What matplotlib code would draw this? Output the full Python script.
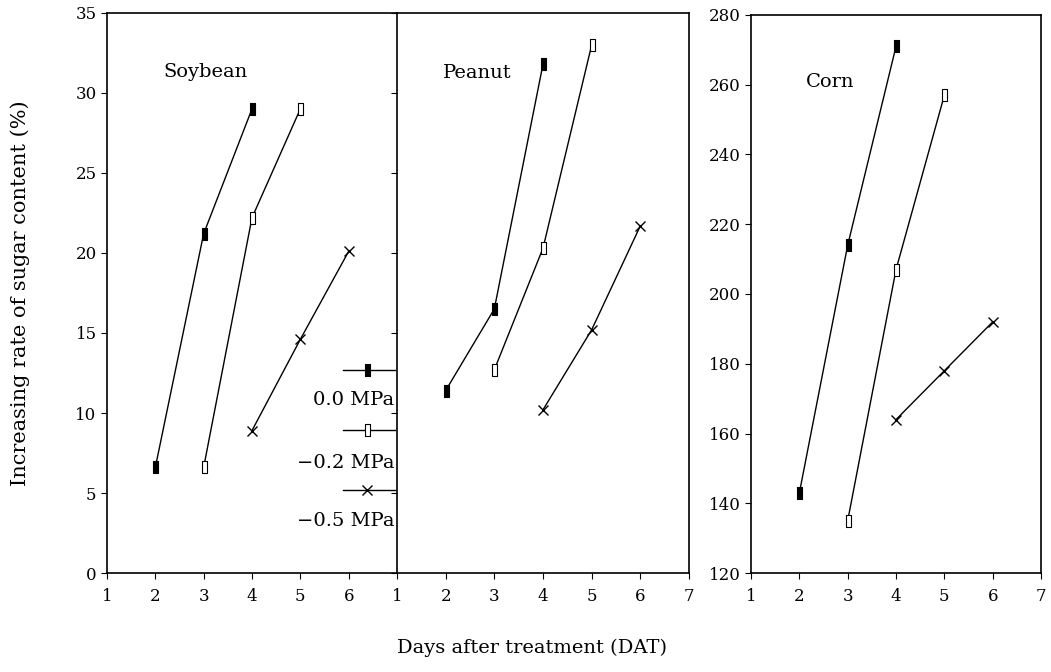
import matplotlib
matplotlib.use("Agg")
import matplotlib.pyplot as plt
from matplotlib.lines import Line2D
from matplotlib.path import Path

plt.rcParams['font.family'] = ['DejaVu Serif']

# days after treatment for each water potential
days_00 = [2, 3, 4]
days_02 = [3, 4, 5]
days_05 = [4, 5, 6]

soy_00 = [6.6, 21.2, 29.0]
soy_02 = [6.6, 22.2, 29.0]
soy_05 = [8.9, 14.6, 20.1]

peanut_00 = [11.4, 16.5, 31.8]
peanut_02 = [12.7, 20.3, 33.0]
peanut_05 = [10.2, 15.2, 21.7]

corn_00 = [143, 214, 271]
corn_02 = [135, 207, 257]
corn_05 = [164, 178, 192]

labels = ['0.0 MPa', '\u22120.2 MPa', '\u22120.5 MPa']

# tall narrow rectangle marker
rect = Path([(-0.4, -1), (0.4, -1), (0.4, 1), (-0.4, 1), (-0.4, -1)],
            [Path.MOVETO, Path.LINETO, Path.LINETO, Path.LINETO, Path.CLOSEPOLY])

styles = [
    dict(marker=rect, markersize=9, markerfacecolor='black', markeredgecolor='black', markeredgewidth=0.8),
    dict(marker=rect, markersize=9, markerfacecolor='white', markeredgecolor='black', markeredgewidth=0.8),
    dict(marker='x', markersize=7, markeredgecolor='black', markeredgewidth=1.0),
]

fig = plt.figure(figsize=(10.51, 6.72), dpi=100)
ax1 = fig.add_axes([0.1018, 0.1473, 0.2759, 0.8334])
ax2 = fig.add_axes([0.3777, 0.1473, 0.2779, 0.8334])
ax3 = fig.add_axes([0.7146, 0.1473, 0.2759, 0.8304])

panels = [
    (ax1, [soy_00, soy_02, soy_05], 'Soybean', 0.193, 0.895),
    (ax2, [peanut_00, peanut_02, peanut_05], 'Peanut', 0.158, 0.893),
    (ax3, [corn_00, corn_02, corn_05], 'Corn', 0.19, 0.88),
]
all_days = [days_00, days_02, days_05]

for ax, series, name, tx, ty in panels:
    for d, v, st in zip(all_days, series, styles):
        ax.plot(d, v, color='black', linewidth=1.0, **st)
    ax.set_xlim(1, 7)
    for s in ax.spines.values():
        s.set_linewidth(1.2)
    ax.tick_params(direction='out', length=4, width=0.8, labelsize=12)
    ax.tick_params(axis='x', pad=7)
    ax.text(tx, ty, name, transform=ax.transAxes, fontsize=14, va='center')

ax1.set_ylim(0, 35)
ax2.set_ylim(0, 35)
ax1.set_yticks(range(0, 36, 5))
ax2.set_yticks(range(0, 36, 5))
ax2.set_yticklabels([])
ax1.set_xticks([1, 2, 3, 4, 5, 6])
ax2.set_xticks([1, 2, 3, 4, 5, 6, 7])
ax1.spines['right'].set_visible(False)

ax3.set_ylim(120, 280)
ax3.set_yticks(range(120, 281, 20))
ax3.set_xticks([1, 2, 3, 4, 5, 6, 7])

# legend keys drawn inside the soybean panel
key_y = [0.362, 0.255, 0.148]
lab_y = [0.309, 0.196, 0.093]
for st, lab, ky, ly in zip(styles, labels, key_y, lab_y):
    ax1.add_line(Line2D([0.814, 0.897, 0.993], [ky, ky, ky], transform=ax1.transAxes,
                        color='black', linewidth=1.0, markevery=[1], **st))
    ax1.text(0.99, ly, lab, transform=ax1.transAxes, fontsize=14,
             ha='right', va='center')

fig.text(0.019, 0.564, 'Increasing rate of sugar content (%)', rotation=90,
         ha='center', va='center', fontsize=15)
fig.text(0.506, 0.036, 'Days after treatment (DAT)', ha='center', va='center', fontsize=14)

fig.savefig('out.png', dpi=100)
